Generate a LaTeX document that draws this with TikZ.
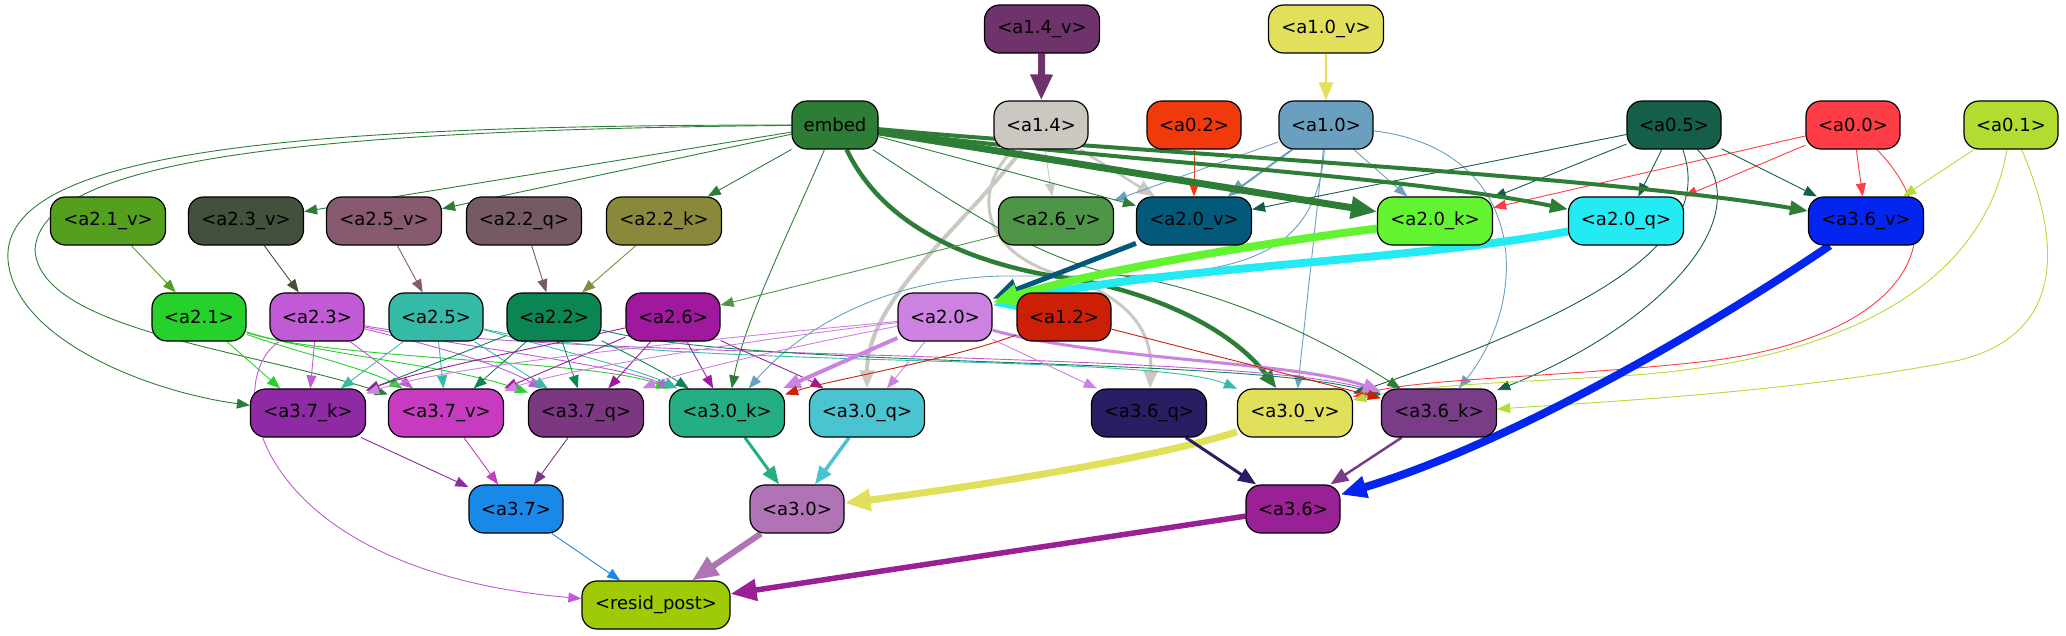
\documentclass[tikz,border=0pt]{standalone}
\usepackage{fontspec}
\setmainfont{DejaVu Sans}
\usetikzlibrary{arrows.meta,backgrounds}

\definecolor{c14v}{HTML}{6F336B}
\definecolor{c10v}{HTML}{E2E05A}
\definecolor{cemb}{HTML}{2E7D37}
\definecolor{c14}{HTML}{CBC7C1}
\definecolor{c02}{HTML}{F03A0C}
\definecolor{c10}{HTML}{6A9FC0}
\definecolor{c05}{HTML}{155E49}
\definecolor{c00}{HTML}{FF3D47}
\definecolor{c01}{HTML}{B2DC32}
\definecolor{c21v}{HTML}{54A01E}
\definecolor{c23v}{HTML}{43503C}
\definecolor{c25v}{HTML}{875A70}
\definecolor{c22q}{HTML}{755A64}
\definecolor{c22k}{HTML}{8A893B}
\definecolor{c26v}{HTML}{4F9548}
\definecolor{c20v}{HTML}{03597A}
\definecolor{c20k}{HTML}{63F431}
\definecolor{c20q}{HTML}{23EAF3}
\definecolor{c36v}{HTML}{0325EF}
\definecolor{c21}{HTML}{27D12B}
\definecolor{c23}{HTML}{C05AD5}
\definecolor{c25}{HTML}{36BAA8}
\definecolor{c22}{HTML}{0A8553}
\definecolor{c26}{HTML}{A0189D}
\definecolor{c20}{HTML}{CC82E1}
\definecolor{c12}{HTML}{CB2005}
\definecolor{c37k}{HTML}{8F2AA5}
\definecolor{c37v}{HTML}{C63BBF}
\definecolor{c37q}{HTML}{7C3781}
\definecolor{c30k}{HTML}{25AE83}
\definecolor{c30q}{HTML}{4BC4D2}
\definecolor{c36q}{HTML}{291E64}
\definecolor{c30v}{HTML}{E1E05A}
\definecolor{c36k}{HTML}{793D87}
\definecolor{c37}{HTML}{1888E9}
\definecolor{c30}{HTML}{B073B5}
\definecolor{c36}{HTML}{9A2195}
\definecolor{cres}{HTML}{9ECB05}

\tikzset{
  box/.style={draw=black, line width=1.2pt, rounded corners=15pt, minimum width=94pt,
    minimum height=48pt, inner sep=0pt, font=\fontsize{18}{21}\selectfont},
  wbox/.style={box, minimum width=115pt},
  edge/.style={line width=0.9pt, -{Triangle[length=13pt,width=10pt]}},
  medge/.style={line width=#1, -{Triangle[length=18pt,width=14pt]}},
  bedge/.style={line width=#1, -{Triangle[length=26pt,width=21pt]}},
}

\begin{document}
\begin{tikzpicture}[x=1pt, y=-1pt]
\useasboundingbox (0,0) rectangle (2066,635);

\node[wbox, fill=c14v] (a14v) at (1042,29) {<a1.4\_v>};
\node[wbox, fill=c10v] (a10v) at (1326,29) {<a1.0\_v>};

\node[box, fill=cemb, minimum width=86pt] (embed) at (835,125) {embed};
\node[box, fill=c14] (a14) at (1041,125) {<a1.4>};
\node[box, fill=c02] (a02) at (1194,125) {<a0.2>};
\node[box, fill=c10] (a10) at (1326,125) {<a1.0>};
\node[box, fill=c05] (a05) at (1674,125) {<a0.5>};
\node[box, fill=c00] (a00) at (1853,125) {<a0.0>};
\node[box, fill=c01] (a01) at (2011,125) {<a0.1>};

\node[wbox, fill=c21v] (a21v) at (108,221) {<a2.1\_v>};
\node[wbox, fill=c23v] (a23v) at (246,221) {<a2.3\_v>};
\node[wbox, fill=c25v] (a25v) at (384,221) {<a2.5\_v>};
\node[wbox, fill=c22q] (a22q) at (524,221) {<a2.2\_q>};
\node[wbox, fill=c22k] (a22k) at (664,221) {<a2.2\_k>};
\node[wbox, fill=c26v] (a26v) at (1056,221) {<a2.6\_v>};
\node[wbox, fill=c20v] (a20v) at (1194,221) {<a2.0\_v>};
\node[wbox, fill=c20k] (a20k) at (1435,221) {<a2.0\_k>};
\node[wbox, fill=c20q] (a20q) at (1626,221) {<a2.0\_q>};
\node[wbox, fill=c36v] (a36v) at (1866,221) {<a3.6\_v>};

\node[box, fill=c21] (a21) at (199,317) {<a2.1>};
\node[box, fill=c23] (a23) at (317,317) {<a2.3>};
\node[box, fill=c25] (a25) at (436,317) {<a2.5>};
\node[box, fill=c22] (a22) at (554,317) {<a2.2>};
\node[box, fill=c26] (a26) at (673,317) {<a2.6>};
\node[box, fill=c20] (a20) at (945,317) {<a2.0>};
\node[box, fill=c12] (a12) at (1064,317) {<a1.2>};

\node[wbox, fill=c37k] (a37k) at (308,413) {<a3.7\_k>};
\node[wbox, fill=c37v] (a37v) at (446,413) {<a3.7\_v>};
\node[wbox, fill=c37q] (a37q) at (586,413) {<a3.7\_q>};
\node[wbox, fill=c30k] (a30k) at (727,413) {<a3.0\_k>};
\node[wbox, fill=c30q] (a30q) at (867,413) {<a3.0\_q>};
\node[wbox, fill=c36q] (a36q) at (1149,413) {<a3.6\_q>};
\node[wbox, fill=c30v] (a30v) at (1295,413) {<a3.0\_v>};
\node[wbox, fill=c36k] (a36k) at (1439,413) {<a3.6\_k>};

\node[box, fill=c37] (a37) at (516,509) {<a3.7>};
\node[box, fill=c30] (a30) at (797,509) {<a3.0>};
\node[box, fill=c36] (a36) at (1293,509) {<a3.6>};

\node[box, fill=cres, minimum width=148pt] (resid) at (656,605) {<resid\_post>};

%%%%%%%%%%%%%%%%%%%%%%%%%%%%%%%%%%%%%%%%

\begin{scope}[on background layer]
% top rows
\draw[bedge=7pt, c14v] (a14v) -- (a14);
\draw[medge=2.5pt, c10v] (a10v) -- (a10);
\draw[edge, c14] (a14) -- (a26v);
\draw[medge=2.5pt, c14] (a14) -- (a20v);
\draw[medge=4pt, c14] (a14) .. controls (960,230) and (867,300) .. (a30q);
\draw[medge=3pt, c14] (a14) .. controls (975,185) and (975,250) .. (1060,275)
  .. controls (1140,300) and (1152,340) .. (a36q);
\draw[edge, c02] (a02) -- (a20v);
\draw[medge=2pt, c10] (a10) -- (a20v);
\draw[edge, c10] (a10) -- (a26v);
\draw[edge, c10] (a10) -- (a20k);
\draw[edge, c10] (a10) -- (a30v);
\draw[edge, c10] (a10) .. controls (1315,290) and (1180,275) .. (1000,276)
  .. controls (880,280) and (800,330) .. (a30k);
\draw[edge, c10] (a10) .. controls (1530,150) and (1530,300) .. (a36k);

\draw[edge, c05] (a05) -- (a20v);
\draw[edge, c05] (a05) -- (a20k);
\draw[edge, c05] (a05) -- (a20q);
\draw[edge, c05] (a05) -- (a36v);
\draw[edge, c05] (a05) .. controls (1715,240) and (1600,310) .. (a30v);
\draw[edge, c05] (a05) .. controls (1765,220) and (1650,330) .. (a36k);

\draw[edge, c00] (a00) -- (a20k);
\draw[edge, c00] (a00) -- (a20q);
\draw[edge, c00] (a00) -- (a36v);
\draw[edge, c00] (a00) .. controls (1965,240) and (1900,340) .. (1700,362)
  .. controls (1550,378) and (1420,378) .. (a30v);

\draw[edge, c01] (a01) -- (a36v);
\draw[edge, c01] (a01) .. controls (1985,280) and (1850,362) .. (1620,376)
  .. controls (1500,383) and (1420,385) .. (a30v);
\draw[edge, c01] (a01) .. controls (2065,250) and (2060,335) .. (1960,360)
  .. controls (1800,392) and (1600,402) .. (a36k);

% embed
\draw[edge, cemb] (embed) -- (a23v);
\draw[edge, cemb] (embed) -- (a25v);
\draw[edge, cemb] (embed) -- (a22k);
\draw[edge, cemb] (embed) .. controls (300,125) and (0,150) .. (8,260)
  .. controls (15,340) and (150,392) .. (a37k);
\draw[edge, cemb] (embed) .. controls (300,130) and (40,160) .. (35,250)
  .. controls (40,330) and (250,350) .. (a37v);
\draw[edge, cemb] (embed) .. controls (790,230) and (745,320) .. (a30k);
\draw[edge, cemb] (embed) -- (a20v);
\draw[bedge=7pt, cemb] (embed) -- (a20k);
\draw[medge=4pt, cemb] (embed) .. controls (1100,160) and (1400,175) .. (a20q);
\draw[medge=4pt, cemb] (embed) .. controls (1100,150) and (1600,175) .. (a36v);
\draw[medge=4.5pt, cemb] (embed) .. controls (880,220) and (960,265) .. (1080,280)
  .. controls (1180,300) and (1240,340) .. (a30v);
\draw[edge, cemb] (embed) .. controls (950,200) and (1050,270) .. (1140,278)
  .. controls (1250,300) and (1340,350) .. (a36k);

% second row down
\draw[edge, c21v] (a21v) -- (a21);
\draw[edge, c23v] (a23v) -- (a23);
\draw[edge, c25v] (a25v) -- (a25);
\draw[edge, c22q] (a22q) -- (a22);
\draw[edge, c22k] (a22k) -- (a22);
\draw[edge, c26v] (a26v) -- (a26);
\draw[bedge=5pt, c20v] (a20v) -- (a20);
\draw[bedge=8pt, c20q] (a20q) .. controls (1400,262) and (1150,268) .. (a20);
\draw[bedge=8pt, c20k] (a20k) .. controls (1250,245) and (1100,270) .. (a20);
\draw[bedge=8pt, c36v] (a36v) .. controls (1720,320) and (1520,440) .. (a36);

% third row down
\draw[edge, c21] (a21) -- (a37k);
\draw[edge, c21] (a21) .. controls (290,350) and (370,370) .. (a37v);
\draw[edge, c21] (a21) .. controls (320,355) and (450,365) .. (a37q);
\draw[edge, c21] (a21) .. controls (330,360) and (600,360) .. (a30k);

\draw[edge, c23] (a23) -- (a37k);
\draw[edge, c23] (a23) -- (a37v);
\draw[edge, c23] (a23) .. controls (450,350) and (500,365) .. (a37q);
\draw[edge, c23] (a23) .. controls (450,345) and (620,365) .. (a30k);
\draw[edge, c23] (a23) .. controls (550,360) and (1250,350) .. (a36k);
\draw[edge, c23] (a23) .. controls (220,380) and (250,570) .. (resid);

\draw[edge, c25] (a25) -- (a37k);
\draw[edge, c25] (a25) -- (a37v);
\draw[edge, c25] (a25) -- (a37q);
\draw[edge, c25] (a25) .. controls (560,350) and (640,370) .. (a30k);
\draw[edge, c25] (a25) .. controls (650,370) and (1150,352) .. (a30v);

\draw[edge, c22] (a22) -- (a37k);
\draw[edge, c22] (a22) -- (a37v);
\draw[edge, c22] (a22) -- (a37q);
\draw[edge, c22] (a22) .. controls (620,350) and (660,370) .. (a30k);
\draw[edge, c22] (a22) .. controls (750,370) and (1250,355) .. (a36k);

\draw[edge, c26] (a26) .. controls (550,345) and (420,370) .. (a37k);
\draw[edge, c26] (a26) -- (a37v);
\draw[edge, c26] (a26) -- (a37q);
\draw[edge, c26] (a26) -- (a30k);
\draw[edge, c26] (a26) .. controls (740,350) and (800,375) .. (a30q);

\draw[edge, c20] (a20) .. controls (700,340) and (450,365) .. (a37k);
\draw[edge, c20] (a20) .. controls (750,340) and (560,370) .. (a37v);
\draw[edge, c20] (a20) .. controls (800,345) and (680,372) .. (a37q);
\draw[medge=4pt, c20] (a20) -- (a30k);
\draw[edge, c20] (a20) -- (a30q);
\draw[edge, c20] (a20) -- (a36q);
\draw[medge=3pt, c20] (a20) .. controls (1100,360) and (1300,362) .. (a36k);

\draw[edge, c12] (a12) .. controls (950,360) and (830,380) .. (a30k);
\draw[edge, c12] (a12) -- (a36k);

% bottom rows
\draw[edge, c37k] (a37k) -- (a37);
\draw[edge, c37v] (a37v) -- (a37);
\draw[edge, c37q] (a37q) -- (a37);
\draw[medge=3pt, c30k] (a30k) -- (a30);
\draw[medge=3.5pt, c30q] (a30q) -- (a30);
\draw[bedge=7pt, c30v] (a30v) .. controls (1150,460) and (950,490) .. (a30);
\draw[medge=3pt, c36q] (a36q) -- (a36);
\draw[medge=2.5pt, c36k] (a36k) -- (a36);
\draw[edge, c37] (a37) -- (resid);
\draw[bedge=6pt, c30] (a30) -- (resid);
\draw[bedge=5.5pt, c36] (a36) -- (resid);
\end{scope}

\end{tikzpicture}
\end{document}
